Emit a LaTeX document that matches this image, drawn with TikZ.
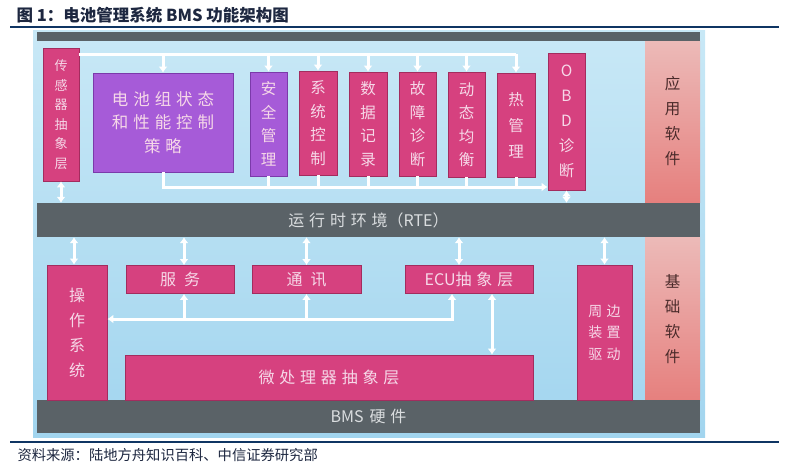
\documentclass[tikz,border=0pt]{standalone}
\usepackage{fontspec}
\setmainfont{Noto Sans CJK SC}
\newfontfamily\cjkwide[LetterSpace=30]{Noto Sans CJK SC}
\usepackage{tikz}
\usetikzlibrary{calc,arrows.meta}

\definecolor{bgtop}{HTML}{C8E8F6}
\definecolor{bgbot}{HTML}{A2D5EF}
\definecolor{darkbar}{HTML}{5A6267}
\definecolor{boxpink}{HTML}{D6417F}
\definecolor{pinkedge}{HTML}{A32C5E}
\definecolor{boxpurple}{HTML}{A65BD8}
\definecolor{purpleedge}{HTML}{7B3AAA}
\definecolor{boxtext}{HTML}{F6D8E8}
\definecolor{apptop}{HTML}{ECBAB8}
\definecolor{appbot}{HTML}{E6807E}
\definecolor{apptext}{HTML}{4A2A2A}
\definecolor{bartext}{HTML}{DADDDF}
\definecolor{rulecol}{HTML}{0F3563}
\definecolor{titlecol}{HTML}{1D2740}

\begin{document}
\begin{tikzpicture}[x=1pt,y=-1pt,
  pinkbox/.style={draw=pinkedge, fill=boxpink, line width=0.8pt, text=boxtext,
    inner sep=0pt, align=center},
  purplebox/.style={pinkbox, draw=purpleedge, fill=boxpurple},
  darkbox/.style={fill=darkbar, text=bartext, inner sep=0pt,
    minimum width=663pt, font=\fontsize{16}{18}\selectfont},
  tallfont/.style={font=\fontsize{15.5}{23.5}\selectfont},
  bus/.style={draw=white, line width=3pt},
  >={Latex[length=6pt,width=9pt]}
]
\useasboundingbox (0,0) rectangle (792,467);

% Title and rules
\node[anchor=west, text=titlecol, font=\bfseries\fontsize{16.5}{19}\selectfont] (title) at (13,15)
  {图 1：电池管理系统 BMS 功能架构图};
\draw[rulecol, line width=2pt] (10,27) -- (779,27);
\draw[rulecol, line width=2.5pt] (10,442) -- (779,442);
\node[anchor=west, text=titlecol, font=\fontsize{14.3}{16}\selectfont] (source) at (14,455)
  {资料来源：陆地方舟知识百科、中信证券研究部};

% Background, bars and side columns
\fill[top color=bgtop, bottom color=bgbot] (33,30) rectangle (705,437);
\fill[darkbar] (37,32) rectangle (700,41);
\fill[top color=apptop, bottom color=appbot] (645,41) rectangle (700,202);
\fill[top color=apptop, bottom color=appbot] (645,237) rectangle (700,400);
\node[text=apptext, align=center, font=\fontsize{15.5}{25}\selectfont] (applbl) at (672.5,121) {应\\用\\软\\件};
\node[text=apptext, align=center, font=\fontsize{15.5}{25}\selectfont] (baselbl) at (672.5,319) {基\\础\\软\\件};

\node[darkbox, minimum height=34pt] (rte) at (368.5,220) {{\cjkwide 运行时环境}（RTE）};
\node[darkbox, minimum height=33pt] (bms) at (368.5,416.5) {BMS\hspace{6pt}{\cjkwide 硬件}};

% Application software
\node[pinkbox, minimum width=36pt, minimum height=133pt, font=\fontsize{13}{19.5}\selectfont] (sensor) at (61,114.5)
  {传\\感\\器\\抽\\象\\层};
\node[purplebox, minimum width=140pt, minimum height=99pt, font=\cjkwide\fontsize{16.5}{23.5}\selectfont] (strategy) at (163,122.5)
  {电池组状态\\和性能控制\\策略};
\node[purplebox, tallfont, minimum width=37pt, minimum height=104pt] (safety) at (268.5,124) {安\\全\\管\\理};
\node[pinkbox, tallfont, minimum width=38pt, minimum height=104pt] (sysctl) at (318,123) {系\\统\\控\\制};
\node[pinkbox, tallfont, minimum width=38pt, minimum height=104pt] (datalog) at (368,124) {数\\据\\记\\录};
\node[pinkbox, tallfont, minimum width=37pt, minimum height=104pt] (fault) at (417.5,124) {故\\障\\诊\\断};
\node[pinkbox, tallfont, minimum width=37pt, minimum height=105pt] (balance) at (466.5,124.5) {动\\态\\均\\衡};
\node[pinkbox, minimum width=38pt, minimum height=104pt, font=\fontsize{15.5}{26}\selectfont] (thermal) at (516,125) {热\\管\\理};
\node[pinkbox, minimum width=37pt, minimum height=137pt, font=\fontsize{15.5}{25}\selectfont] (obd) at (566.5,121.5)
  {O\\B\\D\\诊\\断};

% Buses of the application layer
\coordinate (topbus) at (0,54);
\coordinate (botbus) at (0,187);
\draw[bus] (sensor.east |- topbus) -- (thermal.north |- topbus);
\foreach \n in {strategy,safety,sysctl,datalog,fault,balance,thermal}
  \draw[bus,->] (\n.north |- topbus) -- (\n.north);
\draw[bus,->] (strategy.south) |- (obd.west |- botbus);
\foreach \n in {safety,sysctl,datalog,fault,balance,thermal}
  \draw[bus] (\n.south) -- (\n.south |- botbus);
\draw[bus,<->] (sensor.south) -- (sensor.south |- rte.north);
\draw[bus,<->] (obd.south) -- (obd.south |- rte.north);

% Basic software
\node[pinkbox, minimum width=60pt, minimum height=135pt, font=\fontsize{16}{25}\selectfont] (ops) at (77,332.5)
  {操\\作\\系\\统};
\node[pinkbox, minimum width=108pt, minimum height=28pt, font=\fontsize{16}{18}\selectfont] (service) at (180,279.5)
  {服\hspace{8pt}务};
\node[pinkbox, minimum width=109pt, minimum height=28pt, font=\fontsize{16}{18}\selectfont] (comm) at (306.5,279.5)
  {通\hspace{8pt}讯};
\node[pinkbox, minimum width=128pt, minimum height=28pt, font=\fontsize{16}{18}\selectfont] (ecu) at (469,279.5)
  {ECU{\cjkwide 抽象层}};
\node[pinkbox, minimum width=55pt, minimum height=135pt, font=\cjkwide\fontsize{14}{21.5}\selectfont] (periph) at (604.5,332.5)
  {周边\\装置\\驱动};
\node[pinkbox, minimum width=408pt, minimum height=45pt, font=\cjkwide\fontsize{16}{18}\selectfont] (micro) at (329,377.5)
  {微处理器抽象层};

% Buses of the basic layer
\coordinate (lowbus) at (0,319);
\draw[bus,<->] (rte.south -| ops.north) ++(-3,0) -- ([xshift=-3pt]ops.north);
\draw[bus,<->] (rte.south -| service.north) ++(4,0) -- ([xshift=4pt]service.north);
\draw[bus,<->] (rte.south -| comm.north) -- (comm.north);
\draw[bus,<->] (rte.south -| ecu.north) ++(-10,0) -- ([xshift=-10pt]ecu.north);
\draw[bus,<->] (rte.south -| periph.north) -- (periph.north);
\draw[bus,<->] ([xshift=-17pt]ecu.south) |- (ops.east |- lowbus);
\draw[bus,->] ([xshift=4pt]service.south |- lowbus) -- ([xshift=4pt]service.south);
\draw[bus,->] (comm.south |- lowbus) -- (comm.south);
\draw[bus,<->] ([xshift=23pt]ecu.south) -- ([xshift=23pt]ecu.south |- micro.north);

\end{tikzpicture}
\end{document}
